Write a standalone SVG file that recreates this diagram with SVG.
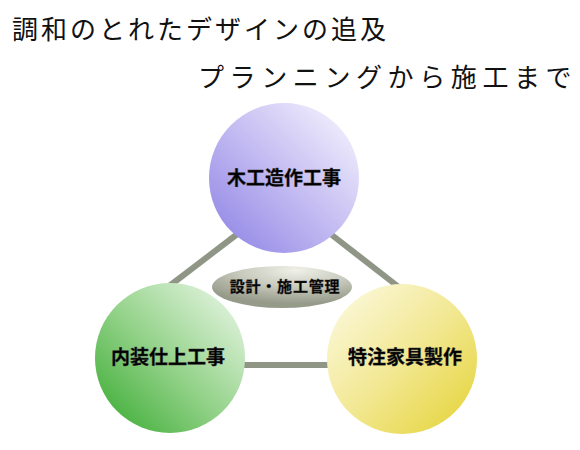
<svg xmlns="http://www.w3.org/2000/svg" width="580" height="450" viewBox="0 0 580 450">
<defs>
<linearGradient id="gPurple" x1="1" y1="0" x2="0" y2="1">
<stop offset="0" stop-color="#fbfaff"/>
<stop offset="0.5" stop-color="#c4bcf2"/>
<stop offset="1" stop-color="#8a7fe4"/>
</linearGradient>
<linearGradient id="gGreen" x1="1" y1="0" x2="0" y2="1">
<stop offset="0" stop-color="#f0f9ee"/>
<stop offset="0.5" stop-color="#98d48e"/>
<stop offset="1" stop-color="#33a82b"/>
</linearGradient>
<linearGradient id="gYellow" x1="0" y1="0" x2="1" y2="1">
<stop offset="0" stop-color="#fdfbe6"/>
<stop offset="0.5" stop-color="#f2e894"/>
<stop offset="1" stop-color="#e4d232"/>
</linearGradient>
<radialGradient id="gGray" cx="0.6" cy="0.1" r="0.8">
<stop offset="0" stop-color="#f0f0e8"/>
<stop offset="0.5" stop-color="#c8cabd"/>
<stop offset="1" stop-color="#959a89"/>
</radialGradient>
</defs>
<style>
.title{font-family:"Noto Sans CJK JP","Noto Sans CJK SC",sans-serif;font-size:26px;font-weight:400;fill:#111}
.lbl{font-family:"Noto Sans CJK JP","Noto Sans CJK SC",sans-serif;font-weight:700;fill:#000;text-anchor:middle;stroke:#333;stroke-width:0.4px}
.conn{stroke:#8f9686;stroke-width:6;fill:none}
</style>
<rect width="580" height="450" fill="#fff"/>
<text class="title" x="12" y="39" letter-spacing="3">調和のとれたデザインの追及</text>
<text class="title" x="198" y="87" letter-spacing="5.6">プランニングから施工まで</text>
<g id="connectors">
<line class="conn" x1="240" y1="232" x2="168" y2="287"/>
<line class="conn" x1="328" y1="232" x2="400" y2="288"/>
<line class="conn" x1="240" y1="365" x2="332" y2="365"/>
</g>
<g id="node-mokko">
<circle cx="284" cy="178" r="75" fill="url(#gPurple)"/>
<text class="lbl" x="284" y="185" font-size="19">木工造作工事</text>
</g>
<g id="node-naiso">
<circle cx="170" cy="358" r="75" fill="url(#gGreen)"/>
<text class="lbl" x="168" y="364" font-size="19">内装仕上工事</text>
</g>
<g id="node-kagu">
<circle cx="402" cy="359" r="75" fill="url(#gYellow)"/>
<text class="lbl" x="405" y="364" font-size="19">特注家具製作</text>
</g>
<g id="node-sekkei">
<ellipse cx="282" cy="287" rx="70" ry="21" fill="url(#gGray)"/>
<text class="lbl" x="285" y="292" font-size="15" letter-spacing="0.8">設計・施工管理</text>
</g>
</svg>
